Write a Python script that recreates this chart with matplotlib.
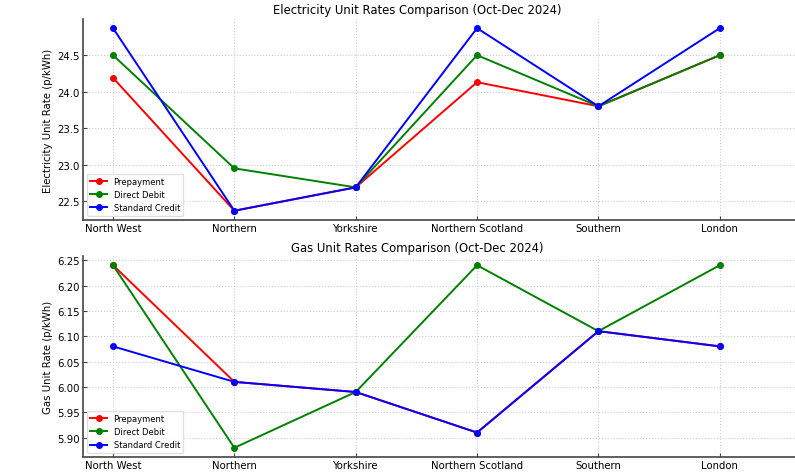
import numpy as np
import matplotlib
matplotlib.use('Agg')
import matplotlib.pyplot as plt

regions = ['North West', 'Northern', 'Yorkshire', 'Northern Scotland', 'Southern', 'London']
methods = ['Prepayment', 'Direct Debit', 'Standard Credit']
colors = ['red', 'green', 'blue']

# electricity unit rates (p/kWh)
elec_prepayment = [24.19, 22.37, 22.69, 24.13, 23.80, 24.50]
elec_direct_debit = [24.50, 22.95, 22.69, 24.50, 23.80, 24.50]
elec_standard_credit = [24.87, 22.37, 22.69, 24.87, 23.80, 24.87]

# gas unit rates (p/kWh)
gas_prepayment = [6.24, 6.01, 5.99, 5.91, 6.11, 6.08]
gas_direct_debit = [6.24, 5.88, 5.99, 6.24, 6.11, 6.24]
gas_standard_credit = [6.08, 6.01, 5.99, 5.91, 6.11, 6.08]

fig = plt.figure(figsize=(7.95, 4.77), dpi=100)
ax1 = fig.add_axes([0.104, 0.537, 0.896, 0.421])
ax2 = fig.add_axes([0.104, 0.040, 0.896, 0.421])

x = np.arange(len(regions))


def draw(ax, series, ylabel, title):
    for vals, name, c in zip(series, methods, colors):
        ax.plot(x, vals, marker='o', color=c, label=name, linewidth=1.4, markersize=4)
    ax.set_xticks(x)
    ax.set_xticklabels(regions)
    ax.tick_params(labelsize=7.3, direction='in', length=3, pad=2, color='#444444')
    ax.set_xlim(-0.25, 5.62)
    ax.set_ylabel(ylabel, fontsize=7.3, labelpad=3)
    ax.set_title(title, fontsize=8.4, x=0.469, pad=4)
    ax.grid(True, linestyle=':', color='#cccccc', linewidth=0.8)
    ax.spines['top'].set_visible(False)
    ax.spines['right'].set_visible(False)
    for side in ['left', 'bottom']:
        ax.spines[side].set_color('#444444')
        ax.spines[side].set_linewidth(1.2)
    ax.legend(loc='lower left', fontsize=6.0, framealpha=0.9, handlelength=2,
              edgecolor='#dddddd')


draw(ax1, [elec_prepayment, elec_direct_debit, elec_standard_credit],
     'Electricity Unit Rate (p/kWh)', 'Electricity Unit Rates Comparison (Oct-Dec 2024)')
draw(ax2, [gas_prepayment, gas_direct_debit, gas_standard_credit],
     'Gas Unit Rate (p/kWh)', 'Gas Unit Rates Comparison (Oct-Dec 2024)')

fig.savefig('out.png', dpi=100)
